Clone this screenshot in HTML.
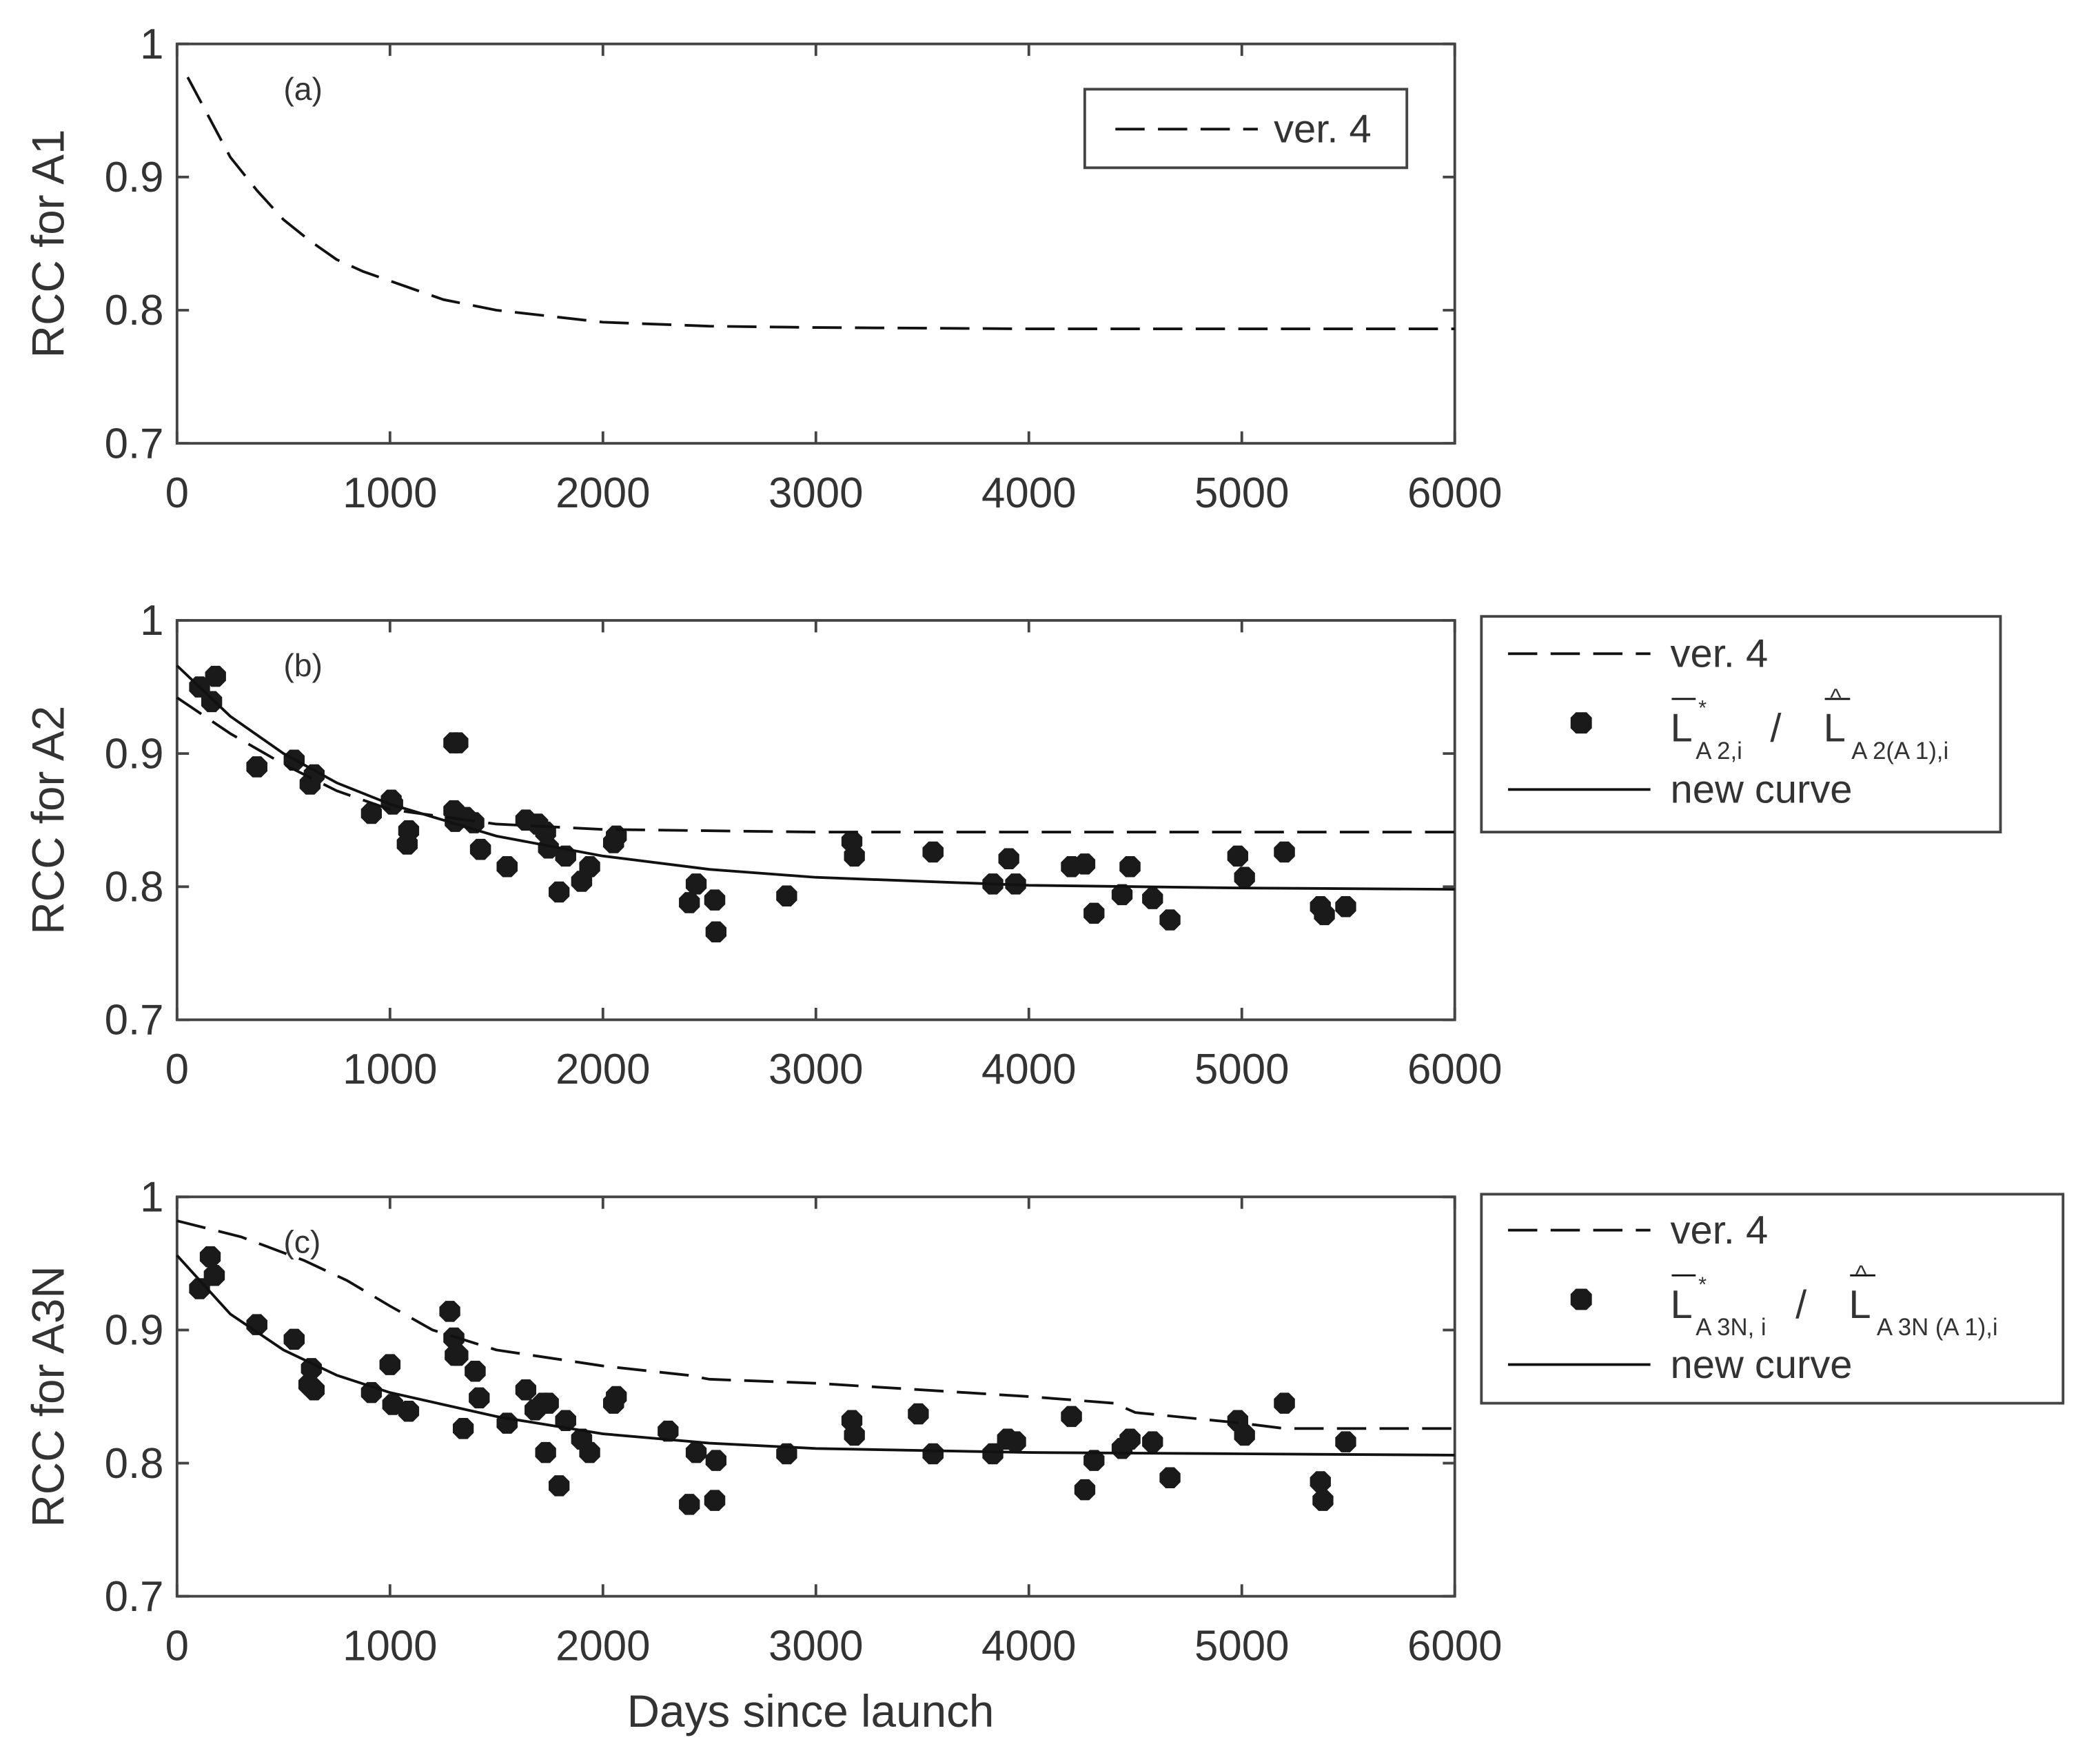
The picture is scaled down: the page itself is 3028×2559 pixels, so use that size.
<!DOCTYPE html>
<html><head><meta charset="utf-8"><style>
html,body{margin:0;padding:0;background:#fff}
svg{display:block}
text{font-family:"Liberation Sans",sans-serif;fill:#333}
</style></head><body>
<svg id="fig" width="3028" height="2559" viewBox="0 0 1568 1325" preserveAspectRatio="none" xmlns="http://www.w3.org/2000/svg"></svg>
<script>
// ---- data ----
const xTicks=[0,1000,2000,3000,4000,5000,6000];
const yTicks=[0.7,0.8,0.9,1];
const yTickLabels=["0.7","0.8","0.9","1"];
const panelTitles=["RCC for A1","RCC for A2","RCC for A3N"];
const panelTags=["(a)","(b)","(c)"];
// ver.4 curves
const aVerT=[50,100,250,375,500,625,750,875,1000,1250,1500,2000,2500,3000,4000,6000];
const aVerY=[0.975,0.960,0.915,0.890,0.868,0.852,0.838,0.829,0.822,0.808,0.800,0.791,0.788,0.787,0.786,0.786];
const bVerT=[0,250,500,750,1000,1500,2000,3000,6000];
const bVerY=[0.942,0.915,0.892,0.872,0.858,0.847,0.843,0.841,0.841];
const bNewT=[0,250,500,750,1000,1500,2000,2500,3000,4000,5000,6000];
const bNewY=[0.966,0.928,0.900,0.878,0.862,0.838,0.823,0.813,0.807,0.801,0.799,0.798];
const cVerT=[0,300,600,800,1000,1200,1500,2000,2400,2500,3000,4000,4400,4500,5000,5200,6000];
const cVerY=[0.982,0.970,0.952,0.937,0.918,0.900,0.885,0.873,0.866,0.863,0.860,0.850,0.845,0.838,0.830,0.826,0.826];
const cNewT=[0,250,500,750,1000,1500,2000,2500,3000,4000,5000,6000];
const cNewY=[0.956,0.912,0.885,0.866,0.853,0.835,0.822,0.815,0.811,0.808,0.807,0.806];
const bPtsT=[106,181,163,375,550,625,644,913,1006,1013,1088,1081,1300,1319,1300,1306,1356,1394,1425,1550,1638,1694,1731,1744,1794,1825,1900,1938,2050,2063,2406,2438,2525,2531,2863,3169,3181,3550,3831,3906,3938,4200,4263,4306,4438,4475,4581,4663,4981,5013,5200,5369,5388,5488];
const bPtsY=[0.950,0.958,0.939,0.890,0.895,0.877,0.884,0.855,0.865,0.862,0.842,0.832,0.908,0.908,0.857,0.849,0.852,0.848,0.828,0.815,0.850,0.847,0.841,0.829,0.796,0.823,0.804,0.815,0.833,0.838,0.788,0.802,0.790,0.766,0.793,0.834,0.823,0.826,0.802,0.821,0.802,0.815,0.817,0.780,0.794,0.815,0.791,0.775,0.823,0.807,0.826,0.785,0.779,0.785];
const cPtsT=[106,156,175,375,550,619,631,644,913,1000,1013,1088,1281,1300,1306,1319,1344,1400,1419,1550,1638,1681,1719,1731,1744,1794,1825,1900,1938,2050,2063,2306,2406,2438,2525,2531,2863,3169,3181,3481,3550,3831,3900,3938,4200,4263,4306,4438,4475,4581,4663,4981,5013,5200,5369,5381,5488];
const cPtsY=[0.931,0.955,0.941,0.904,0.893,0.859,0.871,0.855,0.853,0.874,0.844,0.839,0.914,0.894,0.881,0.881,0.826,0.869,0.849,0.830,0.855,0.840,0.845,0.808,0.845,0.783,0.832,0.818,0.808,0.845,0.850,0.824,0.769,0.808,0.772,0.802,0.807,0.832,0.821,0.837,0.807,0.807,0.818,0.816,0.835,0.780,0.802,0.811,0.818,0.816,0.789,0.832,0.821,0.845,0.786,0.772,0.816];

// ---- layout ----
const NS="http://www.w3.org/2000/svg";
const svg=document.getElementById('fig');
const X0=133,X1=1093;
const tops=[33,466,899];
function mk(tag,attrs,parent){const e=document.createElementNS(NS,tag);for(const k in attrs)e.setAttribute(k,attrs[k]);(parent||svg).appendChild(e);return e;}
function xs(t){return X0+(t-0)/6000*(X1-X0);}
function ysFor(top){return v=>top+(1-v)/0.3*300;}
function linePath(T,Y,ys){return T.map((t,i)=>(i?'L':'M')+xs(t).toFixed(1)+','+ys(Y[i]).toFixed(1)).join(' ');}
function hexPts(cx,cy,r){let p=[];for(let k=0;k<8;k++){const a=Math.PI/8+k*Math.PI/4;p.push((cx+r*Math.cos(a)).toFixed(1)+','+(cy+r*Math.sin(a)).toFixed(1));}return p.join(' ');}

for(let p=0;p<3;p++){
  const top=tops[p],bot=top+300,ys=ysFor(top);
  const g=mk('g',{});
  
  
  const ax=mk('rect',{x:X0,y:top,width:X1-X0,height:300,fill:'none',stroke:'#444','stroke-width':2},g);
  
  
  xTicks.forEach(t=>{
    mk('line',{x1:xs(t),x2:xs(t),y1:bot,y2:bot-9,stroke:'#444','stroke-width':2},g);
    mk('line',{x1:xs(t),x2:xs(t),y1:top,y2:top+9,stroke:'#444','stroke-width':2},g);
    const tx=mk('text',{x:xs(t),y:bot+48,'text-anchor':'middle','font-size':32},g);
    tx.textContent=t;
    
    
  });
  yTicks.forEach((v,i)=>{
    mk('line',{x1:X0,x2:X0+9,y1:ys(v),y2:ys(v),stroke:'#444','stroke-width':2},g);
    mk('line',{x1:X1,x2:X1-9,y1:ys(v),y2:ys(v),stroke:'#444','stroke-width':2},g);
    const tx=mk('text',{x:X0-10,y:ys(v)+11,'text-anchor':'end','font-size':32},g);
    tx.textContent=yTickLabels[i];
    
    
  });
  const yl=mk('text',{x:0,y:0,'text-anchor':'middle','font-size':34,transform:`translate(48,${top+150}) rotate(-90)`},g);
  yl.textContent=panelTitles[p];
  
  
  const tg=mk('text',{x:213,y:top+42,'font-size':24,fill:'#111'},g);
  tg.textContent=panelTags[p];
  
  
}

// series
const ysA=ysFor(tops[0]),ysB=ysFor(tops[1]),ysC=ysFor(tops[2]);
function series(T,Y,ys,dash,name){const e=mk('path',{d:linePath(T,Y,ys),fill:'none',stroke:'#111','stroke-width':2,'stroke-dasharray':dash,'stroke-linejoin':'round'});

}
series(aVerT,aVerY,ysA,'22,10','a-ver4-line');
function pts(T,Y,ys,name){T.forEach((t,i)=>{const e=mk('polygon',{points:hexPts(xs(t),ys(Y[i]),8.5),fill:'#1a1a1a'});

});}
pts(bPtsT,bPtsY,ysB,'b-ratio-point');
series(bVerT,bVerY,ysB,'22,10','b-ver4-line');
series(bNewT,bNewY,ysB,'none','b-new-curve');
pts(cPtsT,cPtsY,ysC,'c-ratio-point');
series(cVerT,cVerY,ysC,'22,10','c-ver4-line');
series(cNewT,cNewY,ysC,'none','c-new-curve');

// x-axis title
const xt=mk('text',{x:609,y:1297,'text-anchor':'middle','font-size':34});
xt.textContent='Days since launch';


</script>
<svg style="position:absolute;left:0;top:0" width="3028" height="2559" viewBox="0 0 1568 1325" preserveAspectRatio="none" xmlns="http://www.w3.org/2000/svg">
<g>
<rect x="815" y="67" width="242" height="59" fill="#fff" stroke="#444" stroke-width="2"/>
<line x1="838" y1="97" x2="945" y2="97" stroke="#111" stroke-width="2" stroke-dasharray="22,10"/>
<text x="957" y="107" font-size="30" fill="#111" font-family="Liberation Sans">ver.  4</text>
</g>
<g>
<rect x="1113" y="463" width="390" height="162" fill="#fff" stroke="#444" stroke-width="2"/>
<line x1="1133" y1="491" x2="1240" y2="491" stroke="#111" stroke-width="2" stroke-dasharray="22,10"/>
<text x="1255" y="501" font-size="30" fill="#111" font-family="Liberation Sans">ver.  4</text>
<polygon points="1196,547 1192,551 1184,551 1180,547 1180,539 1184,535 1192,535 1196,539" fill="#1a1a1a"/>
<line x1="1256" y1="525" x2="1274" y2="525" stroke="#111" stroke-width="1.5"/>
<text x="1255" y="557" font-size="30" fill="#111" font-family="Liberation Sans">L</text>
<text x="1276" y="537" font-size="16" fill="#111" font-family="Liberation Sans">*</text>
<text x="1274" y="570" font-size="18" fill="#111" font-family="Liberation Sans">A 2,i</text>
<text x="1330" y="557" font-size="30" fill="#111" font-family="Liberation Sans">/</text>
<line x1="1371" y1="525" x2="1390" y2="525" stroke="#111" stroke-width="1.5"/>
<text x="1375" y="530" font-size="18" fill="#111" font-family="Liberation Sans">^</text>
<text x="1370" y="557" font-size="30" fill="#111" font-family="Liberation Sans">L</text>
<text x="1391" y="570" font-size="18" fill="#111" font-family="Liberation Sans">A 2(A 1),i</text>
<line x1="1133" y1="593" x2="1240" y2="593" stroke="#111" stroke-width="2"/>
<text x="1255" y="603" font-size="30" fill="#111" font-family="Liberation Sans">new  curve</text>
</g>
<g>
<rect x="1113" y="897" width="437" height="157" fill="#fff" stroke="#444" stroke-width="2"/>
<line x1="1133" y1="924" x2="1240" y2="924" stroke="#111" stroke-width="2" stroke-dasharray="22,10"/>
<text x="1255" y="934" font-size="30" fill="#111" font-family="Liberation Sans">ver.  4</text>
<polygon points="1196,980 1192,984 1184,984 1180,980 1180,972 1184,968 1192,968 1196,972" fill="#1a1a1a"/>
<line x1="1256" y1="958" x2="1274" y2="958" stroke="#111" stroke-width="1.5"/>
<text x="1255" y="990" font-size="30" fill="#111" font-family="Liberation Sans">L</text>
<text x="1276" y="970" font-size="16" fill="#111" font-family="Liberation Sans">*</text>
<text x="1274" y="1003" font-size="18" fill="#111" font-family="Liberation Sans">A 3N, i</text>
<text x="1349" y="990" font-size="30" fill="#111" font-family="Liberation Sans">/</text>
<line x1="1390" y1="958" x2="1409" y2="958" stroke="#111" stroke-width="1.5"/>
<text x="1394" y="963" font-size="18" fill="#111" font-family="Liberation Sans">^</text>
<text x="1389" y="990" font-size="30" fill="#111" font-family="Liberation Sans">L</text>
<text x="1410" y="1003" font-size="18" fill="#111" font-family="Liberation Sans">A 3N (A 1),i</text>
<line x1="1133" y1="1025" x2="1240" y2="1025" stroke="#111" stroke-width="2"/>
<text x="1255" y="1035" font-size="30" fill="#111" font-family="Liberation Sans">new  curve</text>
</g>
</svg>
</body></html>
